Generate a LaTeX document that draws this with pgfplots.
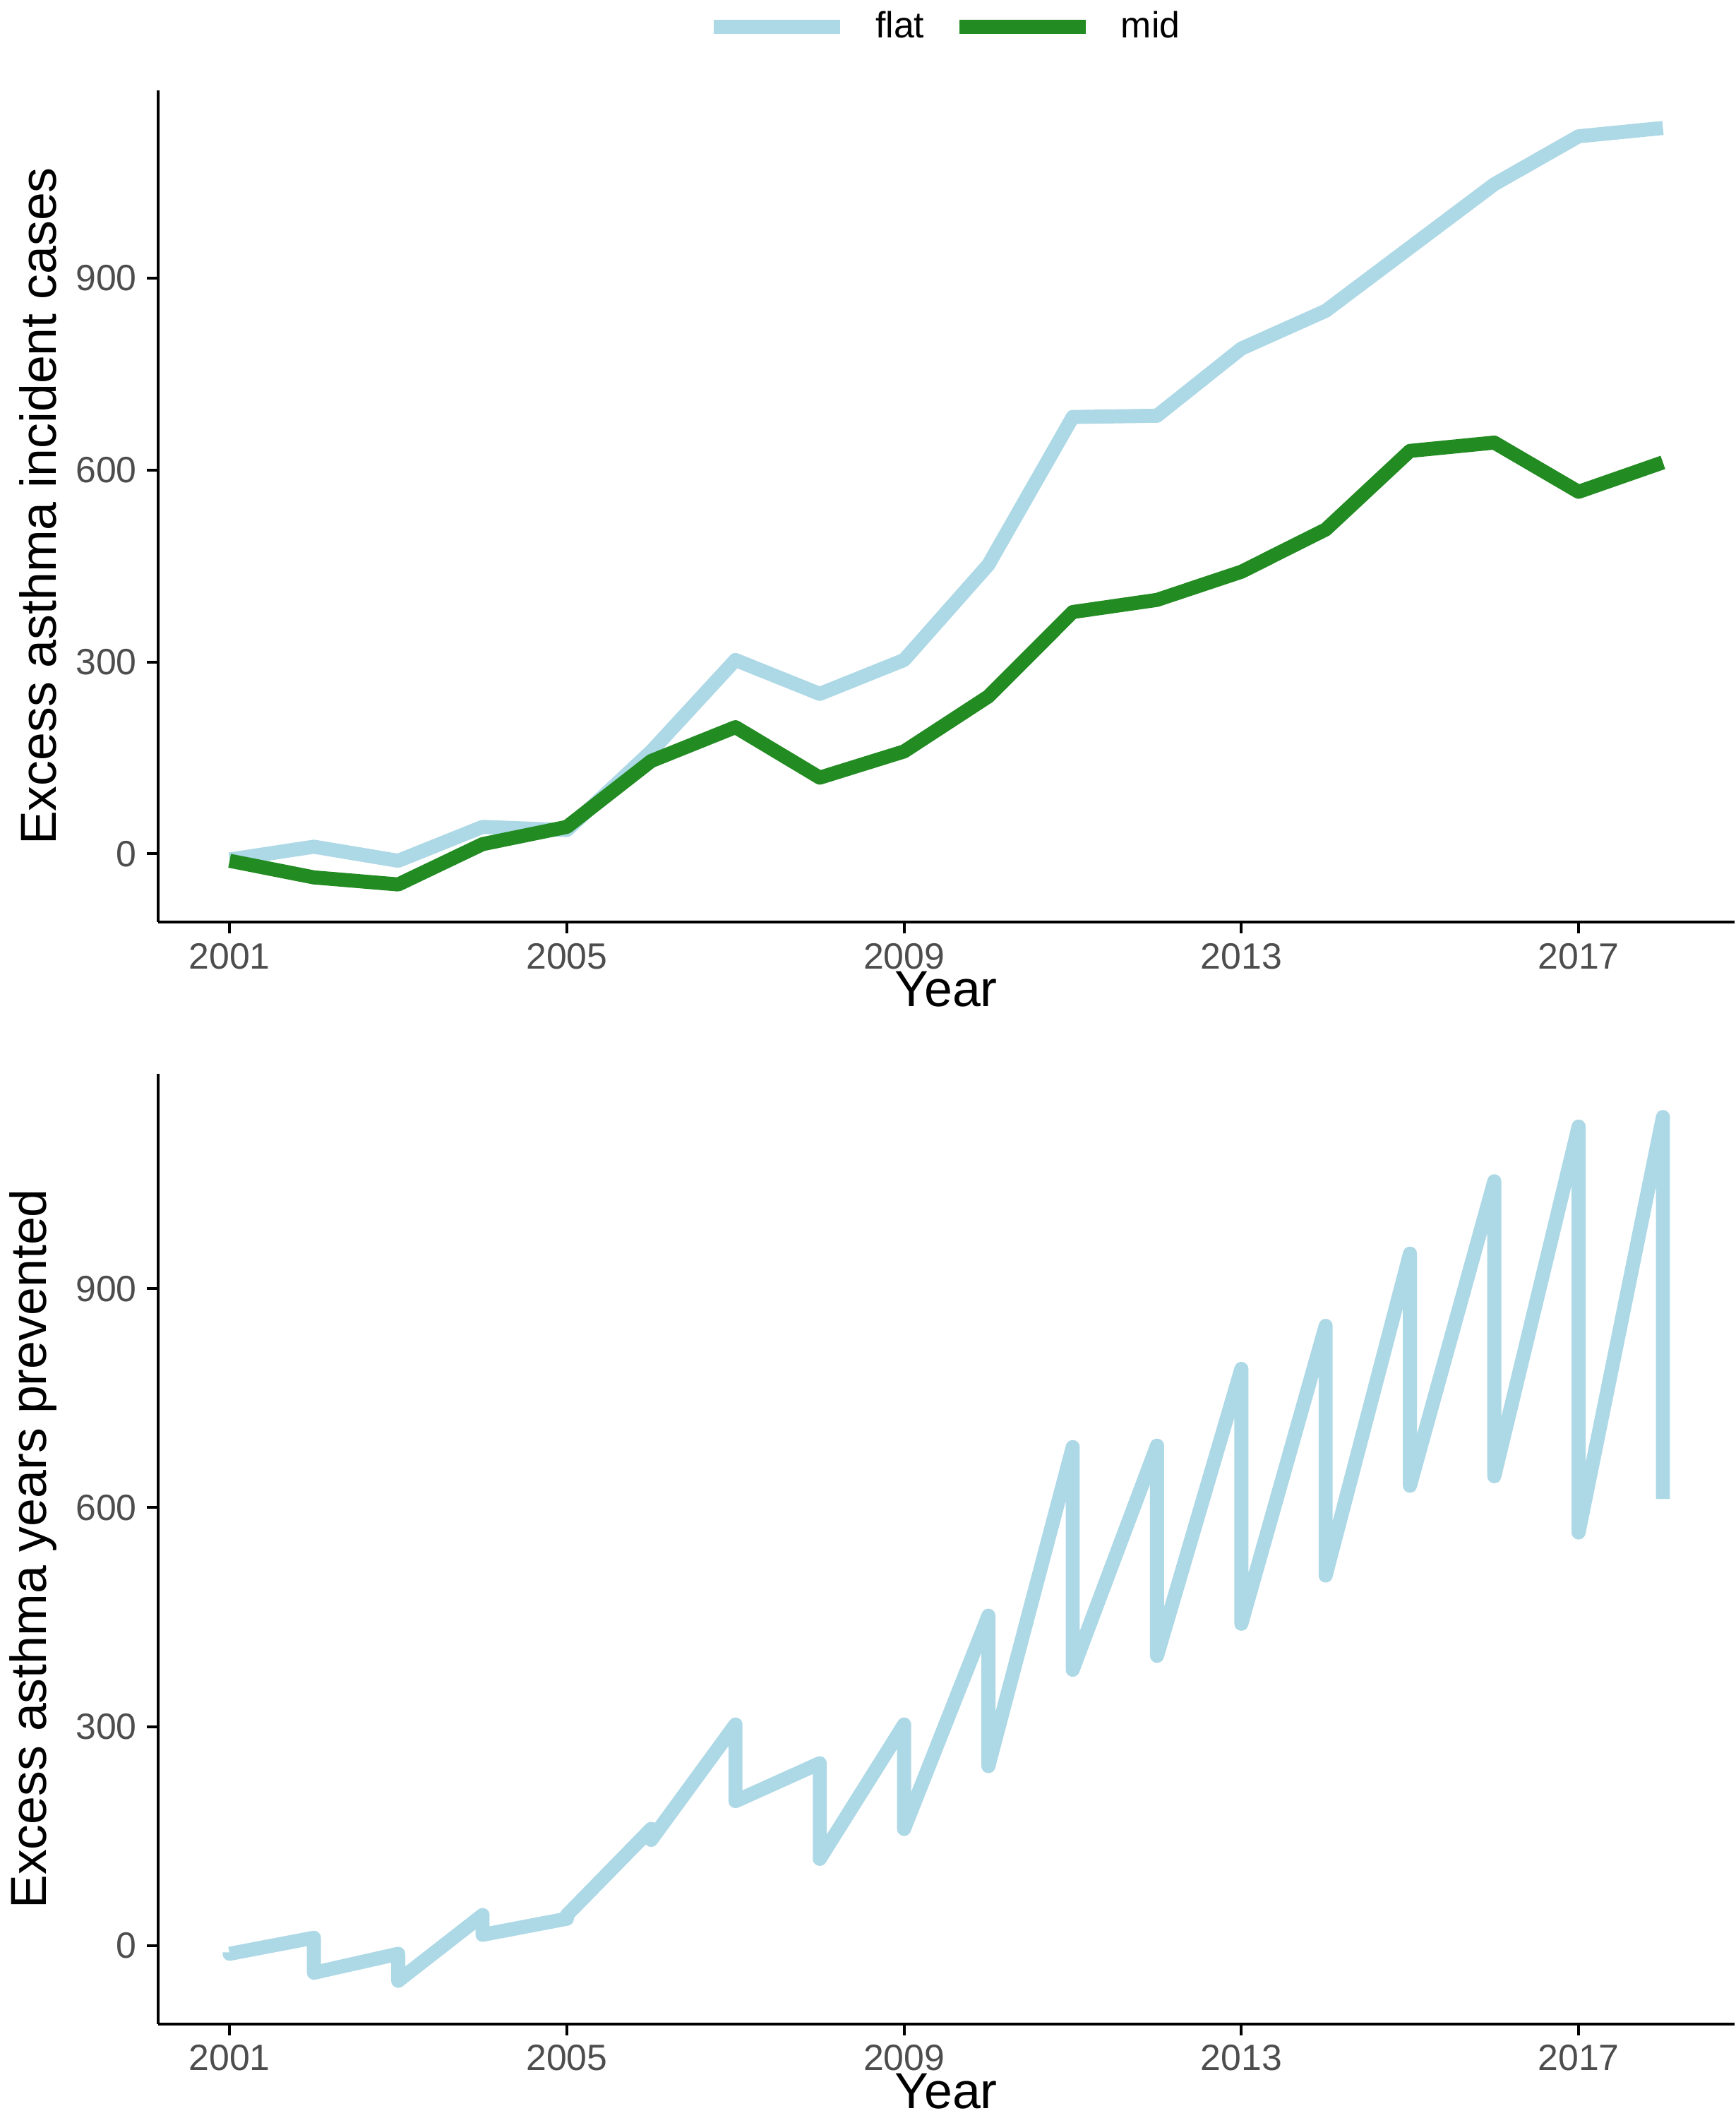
\documentclass[border=0pt]{standalone}
\usepackage{pgfplots}
\pgfplotsset{compat=1.18}
\usetikzlibrary{calc}
\usepackage{fontspec}
\setmainfont{Liberation Sans}
\definecolor{lb}{HTML}{ADD8E6}
\definecolor{fg}{HTML}{228B22}
\definecolor{tk}{HTML}{4D4D4D}
\pgfplotsset{
  base/.style={scale only axis, width=561pt,
    xmin=2000.15, xmax=2018.85, ymin=-107, ymax=1194,
    axis lines*=left, axis line style={line width=1pt},
    xtick={2001,2005,2009,2013,2017}, ytick={0,300,600,900},
    xticklabel style={/pgf/number format/1000 sep={}},
    tick style={line width=1pt, black}, tick align=outside, major tick length=4pt,
    ticklabel style={font=\fontsize{13}{13}\selectfont, text=tk},
    /pgf/number format/assume math mode=true,
    label style={font=\fontsize{18}{18}\selectfont},
    xlabel={Year}, xlabel style={yshift=6pt},
    every axis plot/.append style={line width=5pt, line join=round},
  }
}
\begin{document}
\begin{tikzpicture}
\begin{axis}[base, name=top, height=296pt,
  ylabel={Excess asthma incident cases},
  legend columns=2,
  legend style={at={(0.5,1)}, anchor=south, yshift=13pt, draw=none,
    font=\fontsize{13}{13}\selectfont, column sep=8pt},
  legend image code/.code={\draw[#1] (0pt,0pt) -- (45pt,0pt);}]
\addplot[lb] coordinates {(2001,-9)(2002,11)(2003,-11)(2004,42)(2005,37)(2006,160)(2007,303)(2008,250)(2009,303)(2010,452)(2011,683)(2012,685)(2013,790)(2014,849)(2015,948)(2016,1047)(2017,1122)(2018,1135)};
\addlegendentry{flat}
\addplot[fg] coordinates {(2001,-11)(2002,-37)(2003,-48)(2004,15)(2005,42)(2006,145)(2007,198)(2008,119)(2009,160)(2010,246)(2011,378)(2012,397)(2013,441)(2014,507)(2015,630)(2016,643)(2017,566)(2018,612)};
\addlegendentry{mid}
\end{axis}
\begin{axis}[base, at={($(top.south west)+(0,-54pt)$)}, anchor=north west, height=338pt,
  ylabel={Excess asthma years prevented}]
\addplot[lb] coordinates {(2001,-9)(2001,-11)(2002,11)(2002,-37)(2003,-11)(2003,-48)(2004,42)(2004,15)(2005,37)(2005,42)(2006,160)(2006,145)(2007,303)(2007,198)(2008,250)(2008,119)(2009,303)(2009,160)(2010,452)(2010,246)(2011,683)(2011,378)(2012,685)(2012,397)(2013,790)(2013,441)(2014,849)(2014,507)(2015,948)(2015,630)(2016,1047)(2016,643)(2017,1122)(2017,566)(2018,1135)(2018,612)};
\end{axis}
\end{tikzpicture}
\end{document}
